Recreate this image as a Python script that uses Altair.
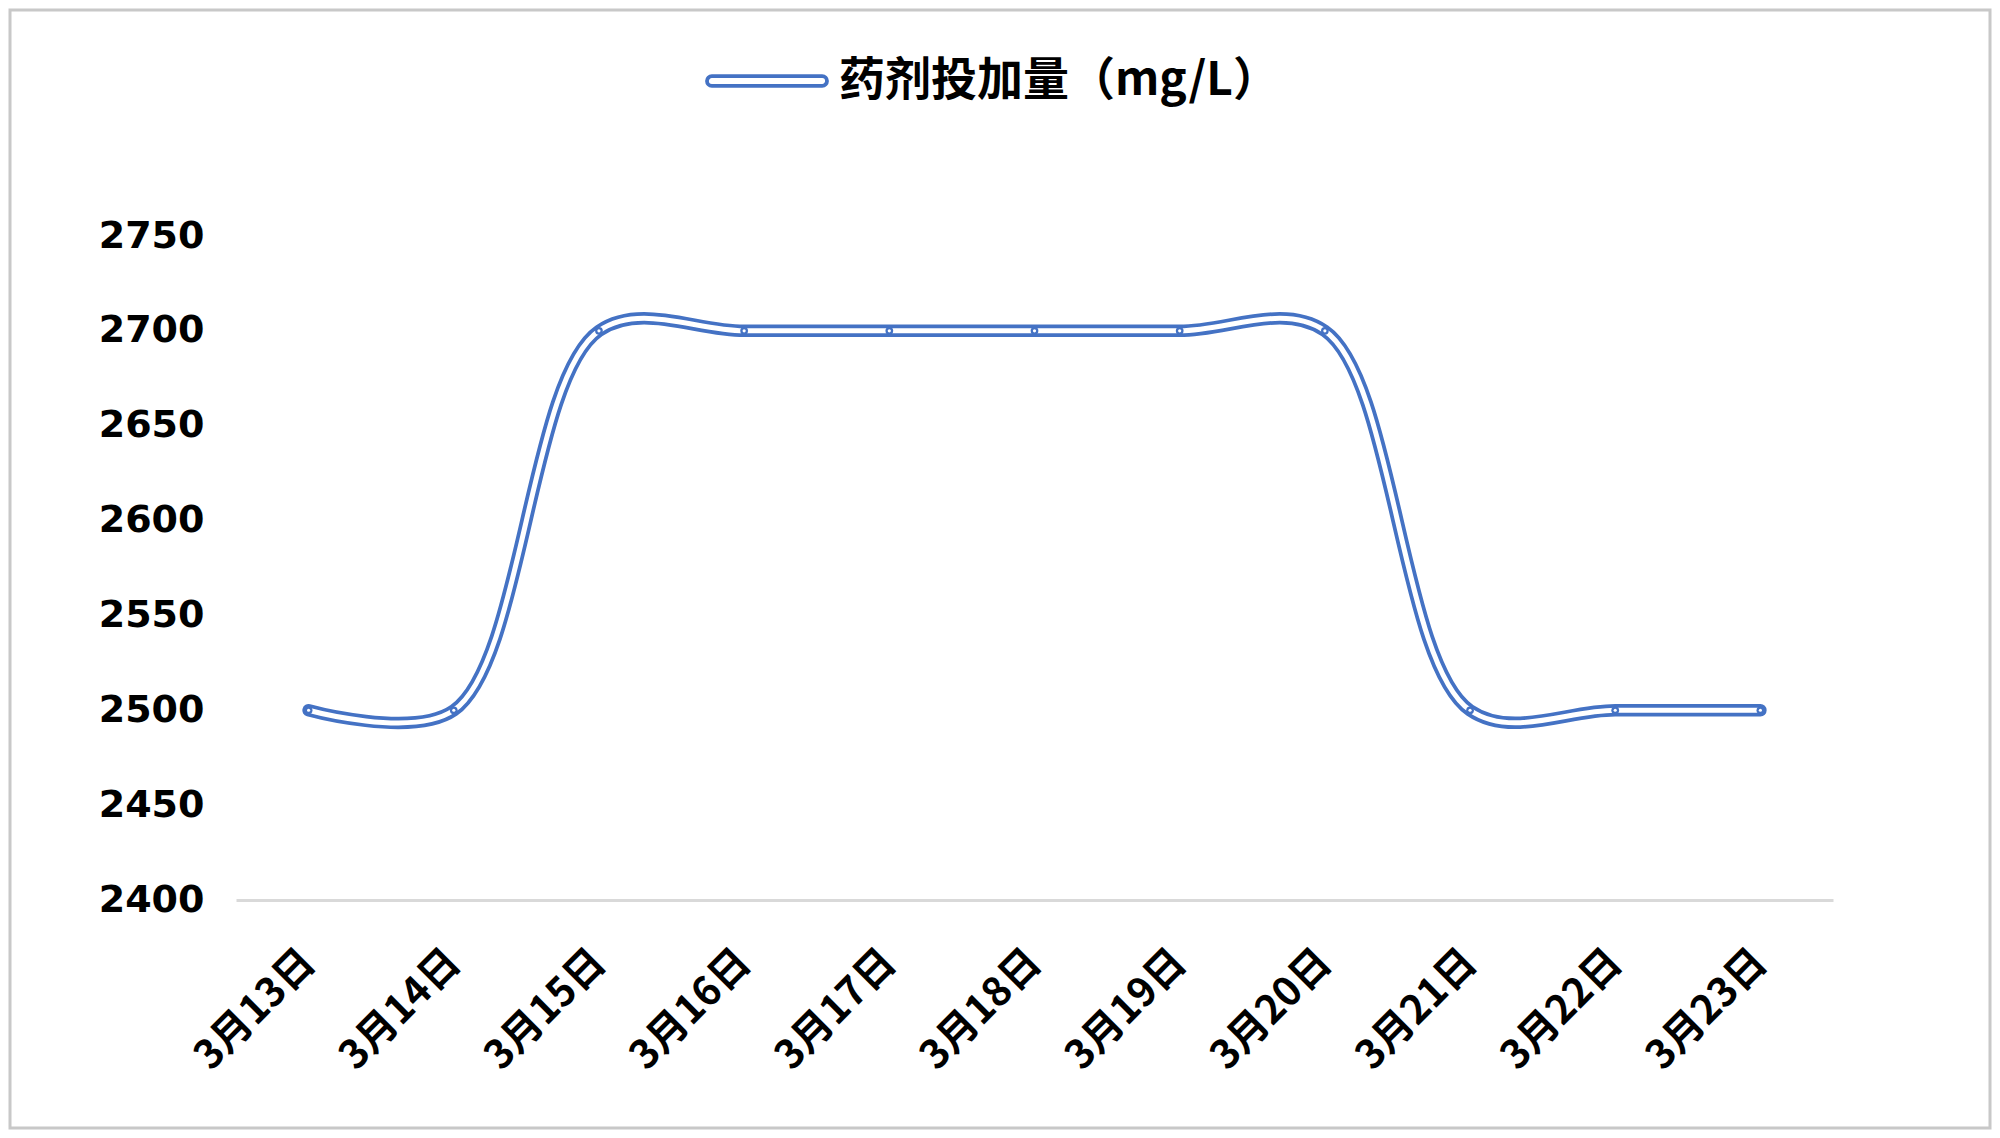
import altair as alt
import pandas as pd

dates = ["3月13日", "3月14日", "3月15日", "3月16日", "3月17日", "3月18日",
         "3月19日", "3月20日", "3月21日", "3月22日", "3月23日"]
dose = [2500, 2500, 2700, 2700, 2700, 2700, 2700, 2700, 2500, 2500, 2500]
series_name = "药剂投加量（mg/L）"
y_ticks = [2400, 2450, 2500, 2550, 2600, 2650, 2700, 2750]

BLUE = "#4472C4"
df = pd.DataFrame({"date": dates, "dose": dose, "series": [series_name] * len(dates)})

W, H = 1597, 664
PAD = {"left": 228, "top": 228, "right": 159, "bottom": 230}

capsule = ("M-0.92,-0.08 L0.92,-0.08 A0.08,0.08 0 0 1 0.92,0.08 "
           "L-0.92,0.08 A0.08,0.08 0 0 1 -0.92,-0.08 Z")

x_enc = alt.X("date:N", sort=dates, scale=alt.Scale(padding=0.5),
              axis=alt.Axis(title=None, labelAngle=-45, labelAlign="right",
                            labelBaseline="middle", labelPadding=56,
                            labelFont="Noto Sans CJK SC", labelFontSize=40,
                            labelFontWeight="bold", labelColor="black",
                            ticks=False, domain=True, domainColor="#d9d9d9",
                            domainWidth=3, grid=False, labelLimit=400))
y_enc = alt.Y("dose:Q", scale=alt.Scale(domain=[2400, 2750], nice=False, zero=False),
              axis=alt.Axis(title=None, values=y_ticks, format="d", ticks=False,
                            tickSize=0, domain=False, grid=False, labelPadding=32,
                            labelFont="DejaVu Sans", labelFontWeight="bold",
                            labelFontSize=38, labelColor="black"))

base = alt.Chart(df)

CURVE = "catmull-rom"

outer = base.mark_line(interpolate=CURVE, strokeWidth=12.5,
                       strokeCap="round", strokeJoin="round").encode(
    x=x_enc, y=y_enc,
    color=alt.Color("series:N",
                    scale=alt.Scale(domain=[series_name], range=[BLUE]),
                    legend=alt.Legend(title=None, orient="none", legendX=469,
                                      legendY=-217, padding=0,
                                      symbolType=capsule, symbolSize=14400,
                                      symbolFillColor="white",
                                      symbolStrokeColor=BLUE,
                                      symbolStrokeWidth=3.8,
                                      labelOffset=10,
                                      labelFont="Noto Sans CJK SC",
                                      labelFontSize=46, labelFontWeight="bold",
                                      labelColor="black", labelLimit=800)))

inner = base.mark_line(interpolate=CURVE, strokeWidth=5,
                       color="white", strokeCap="round",
                       strokeJoin="round").encode(x=x_enc, y=y_enc)

pts = base.mark_point(shape="circle", filled=True, color=BLUE, size=60,
                      opacity=1).encode(x=x_enc, y=y_enc)
pts_in = base.mark_point(shape="circle", filled=True, color="white", size=10,
                         opacity=1).encode(x=x_enc, y=y_enc)

frame = alt.Chart(pd.DataFrame({"a": [0]})).mark_rect(
    filled=False, stroke="#c8c8c8", strokeWidth=3).encode(
    x=alt.value(-226), x2=alt.value(W + PAD["right"] - 2),
    y=alt.value(-226), y2=alt.value(H + PAD["bottom"] - 2))

chart = alt.layer(frame, outer, inner, pts, pts_in).properties(
    width=W, height=H,
    autosize=alt.AutoSizeParams(type="none"),
    padding=PAD,
    background="white",
).configure_view(strokeWidth=0, stroke="transparent")

chart.save("out.html", embed_options={"renderer": "svg", "actions": False})
